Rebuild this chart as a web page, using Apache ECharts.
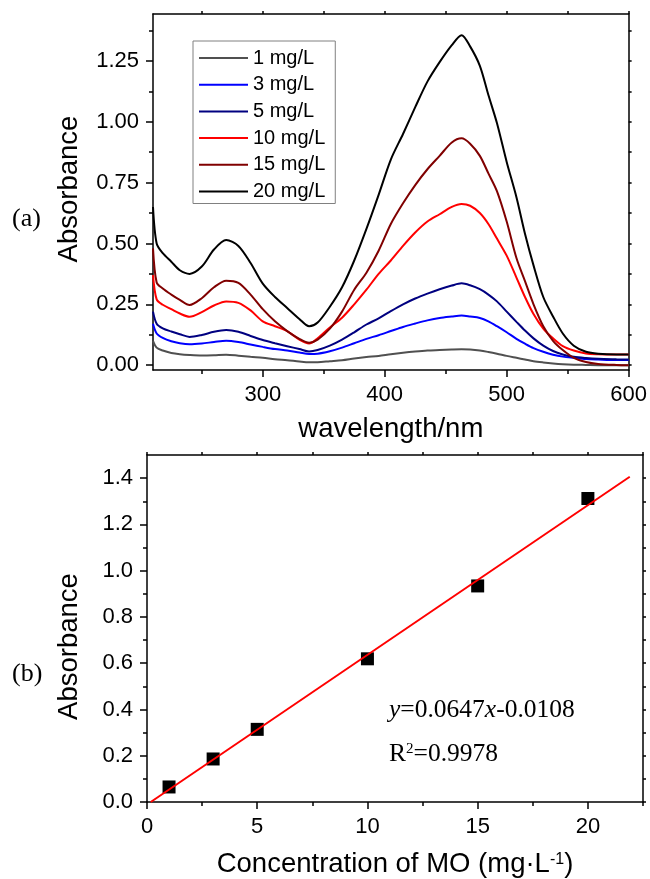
<!DOCTYPE html>
<html><head><meta charset="utf-8">
<script src="https://cdn.jsdelivr.net/npm/echarts@6/dist/echarts.min.js"></script>
<style>html,body{margin:0;padding:0;background:#fff}#c{width:650px;height:879px}</style>
</head><body><div id="c"></div>
<script>
// ---------- data ----------
const wavelengths = [210,213,218,225,232,240,250,260,270,280,290,300,310,320,330,338,345,355,365,375,385,395,405,415,425,435,445,455,463,470,478,485,492,500,508,515,522,530,538,546,555,565,575,590,600];
const abs1  = [0.10,0.072,0.06,0.05,0.045,0.042,0.04,0.041,0.043,0.039,0.034,0.03,0.024,0.02,0.015,0.012,0.012,0.016,0.02,0.027,0.033,0.038,0.045,0.051,0.056,0.06,0.062,0.064,0.065,0.064,0.06,0.054,0.047,0.038,0.03,0.023,0.016,0.011,0.007,0.004,0.002,0.001,0.0,0.0,0.0];
const abs3  = [0.17,0.13,0.112,0.098,0.09,0.086,0.089,0.095,0.1,0.095,0.085,0.075,0.066,0.06,0.052,0.046,0.047,0.057,0.072,0.09,0.108,0.123,0.14,0.157,0.171,0.184,0.194,0.2,0.204,0.2,0.194,0.18,0.16,0.135,0.108,0.088,0.07,0.055,0.043,0.035,0.03,0.025,0.023,0.021,0.021];
const abs5  = [0.22,0.17,0.151,0.138,0.127,0.116,0.124,0.137,0.144,0.137,0.12,0.103,0.09,0.078,0.066,0.056,0.062,0.08,0.105,0.135,0.167,0.192,0.222,0.25,0.274,0.294,0.312,0.327,0.336,0.328,0.312,0.29,0.262,0.22,0.178,0.142,0.11,0.08,0.058,0.044,0.034,0.029,0.026,0.024,0.023];
const abs10 = [0.37,0.27,0.248,0.23,0.212,0.199,0.218,0.245,0.262,0.256,0.225,0.18,0.16,0.14,0.105,0.089,0.11,0.155,0.195,0.25,0.31,0.375,0.43,0.49,0.545,0.59,0.62,0.65,0.662,0.655,0.625,0.58,0.52,0.45,0.36,0.28,0.21,0.15,0.11,0.078,0.06,0.048,0.045,0.044,0.044];
const abs15 = [0.48,0.34,0.315,0.29,0.268,0.247,0.275,0.32,0.347,0.338,0.29,0.23,0.18,0.14,0.108,0.092,0.105,0.15,0.22,0.31,0.38,0.47,0.58,0.665,0.74,0.805,0.86,0.915,0.932,0.91,0.86,0.788,0.715,0.59,0.44,0.345,0.25,0.16,0.1,0.062,0.03,0.013,0.005,0.001,0.0];
const abs20 = [0.65,0.50,0.46,0.425,0.39,0.375,0.405,0.475,0.514,0.49,0.42,0.335,0.28,0.235,0.19,0.16,0.175,0.24,0.32,0.43,0.56,0.70,0.845,0.95,1.06,1.165,1.245,1.315,1.356,1.31,1.23,1.11,0.995,0.835,0.69,0.54,0.41,0.28,0.2,0.13,0.08,0.055,0.047,0.044,0.044];
const seriesNames = ['1 mg/L','3 mg/L','5 mg/L','10 mg/L','15 mg/L','20 mg/L'];

const concentrations = [1,3,5,10,15,20];
const measuredAbs = [0.065,0.186,0.314,0.619,0.934,1.312];
const fitX = [0.17,21.9];
const fitY = [0.0,1.406];

// tick values
const topXMajor = [300,400,500,600];
const topXMinor = [250,350,450,550];
const topYMajor = [0,0.25,0.5,0.75,1.0,1.25];
const topYMinor = [0.125,0.375,0.625,0.875,1.125,1.375];
const botXMajor = [0,5,10,15,20];
const botXMinor = [2.5,7.5,12.5,17.5,22.5];
const botYMajor = [0,0.2,0.4,0.6,0.8,1.0,1.2,1.4];
const botYMinor = [0.1,0.3,0.5,0.7,0.9,1.1,1.3];

// ---------- chart ----------
const SANS = 'Liberation Sans, Arial, sans-serif';
const SERIF = 'Liberation Serif, Times New Roman, serif';
const colors = ['#505050','#0000ff','#000080','#ff0000','#800000','#000000'];
const lineBlack = {color:'#000', width:1.5};
const TITLE_FS = 27.5;

function mainAxis(grid, pos, min, max, major, fmt, name, nameGap, nameExtra) {
  return Object.assign({
    gridIndex:grid, type:'value', position:pos, min:min, max:max,
    axisLine:{show:true, onZero:false, lineStyle:lineBlack},
    axisTick:{show:true, inside:false, customValues:major, length:7, lineStyle:lineBlack},
    axisLabel:{show:true, customValues:major, formatter:fmt, margin:14, fontSize:22, color:'#000', fontFamily:SANS},
    splitLine:{show:false},
    name:name, nameLocation:'middle', nameGap:nameGap,
    nameTextStyle:{fontSize:TITLE_FS, color:'#000', fontFamily:SANS, lineHeight:28}
  }, nameExtra || {});
}
function tickAxis(grid, pos, min, max, ticks, len, showLine) {
  return {
    gridIndex:grid, type:'value', position:pos, min:min, max:max,
    axisLine:{show:showLine, onZero:false, lineStyle:lineBlack},
    axisTick:{show:true, inside:false, customValues:ticks, length:len, lineStyle:lineBlack},
    axisLabel:{show:false}, splitLine:{show:false}
  };
}

const lineSeries = [abs1,abs3,abs5,abs10,abs15,abs20].map((arr,i) => ({
  name: seriesNames[i], type:'line', xAxisIndex:0, yAxisIndex:0,
  data: wavelengths.map((w,j) => [w, arr[j]]),
  showSymbol:false, symbol:'none', smooth:0.3,
  lineStyle:{color:colors[i], width:2}, itemStyle:{color:colors[i]},
  animation:false
}));

const option = {
  animation:false,
  backgroundColor:'#fff',
  grid:[
    {left:153, top:14, width:478, height:356},
    {left:147, top:455, width:496, height:352}
  ],
  xAxis:[
    mainAxis(0,'bottom',210,600,topXMajor,v=>String(v),'wavelength/nm',45),
    tickAxis(0,'bottom',210,600,topXMinor,4,false),
    tickAxis(0,'top',210,600,topXMajor.concat(topXMinor),3,true),
    mainAxis(1,'bottom',0,22.5,botXMajor,v=>String(v),'Concentration of MO (mg·L{sup|-1})',48,
      {nameTextStyle:{fontSize:TITLE_FS, color:'#000', fontFamily:SANS, lineHeight:28,
        rich:{sup:{fontSize:16, fontFamily:SANS, color:'#000', lineHeight:16, padding:[0,0,8,0]}}}}),
    tickAxis(1,'bottom',0,22.5,botXMinor,4,false),
    tickAxis(1,'top',0,22.5,botXMajor.concat(botXMinor),3,true)
  ],
  yAxis:[
    mainAxis(0,'left',-0.02,1.443,topYMajor,v=>v.toFixed(2),'Absorbance',70,
      {nameTextStyle:{fontSize:TITLE_FS, color:'#000', fontFamily:SANS, lineHeight:28, padding:[0,0,0,6]}}),
    tickAxis(0,'left',-0.02,1.443,topYMinor,4,false),
    tickAxis(0,'right',-0.02,1.443,topYMajor.concat(topYMinor),3,true),
    mainAxis(1,'left',0,1.5,botYMajor,v=>v.toFixed(1),'Absorbance',64,
      {nameTextStyle:{fontSize:TITLE_FS, color:'#000', fontFamily:SANS, lineHeight:28, padding:[0,36,0,0]}}),
    tickAxis(1,'left',0,1.5,botYMinor,4,false),
    tickAxis(1,'right',0,1.5,botYMajor.concat(botYMinor),3,true)
  ],
  legend:{
    show:true, orient:'vertical', left:193, top:41,
    data:seriesNames, icon:'rect', itemWidth:49, itemHeight:2, itemGap:6.7,
    padding:[7,10,2,6], borderColor:'#808080', borderWidth:1, backgroundColor:'#fff',
    textStyle:{fontSize:20, fontFamily:SANS, color:'#000', lineHeight:20},
    selectedMode:false
  },
  series: lineSeries.concat([
    {type:'scatter', xAxisIndex:3, yAxisIndex:3, symbol:'rect', symbolSize:13,
     itemStyle:{color:'#000', opacity:1}, data:concentrations.map((c,i)=>[c, measuredAbs[i]]), z:3},
    {type:'line', xAxisIndex:3, yAxisIndex:3, symbol:'none', showSymbol:false,
     lineStyle:{color:'#ff0000', width:2}, data:fitX.map((x,i)=>[x, fitY[i]]), z:4}
  ]),
  graphic:[
    {type:'text', left:12, top:206, style:{text:'(a)', font:'26px '+SERIF, fill:'#000'}},
    {type:'text', left:12, top:661, style:{text:'(b)', font:'26px '+SERIF, fill:'#000'}},
    {type:'text', left:389, top:697, style:{text:'{i|y}=0.0647{i|x}-0.0108', fontSize:25.5, fontFamily:SERIF, fill:'#000',
      rich:{i:{fontStyle:'italic', fontSize:25.5, fontFamily:SERIF}}}},
    {type:'text', left:389, top:741, style:{text:'R{sup|2}=0.9978', fontSize:25.5, fontFamily:SERIF, fill:'#000',
      rich:{sup:{fontSize:15, fontFamily:SERIF, lineHeight:15, padding:[0,0,10,0]}}}}
  ]
};
const chart = echarts.init(document.getElementById('c'), null, {renderer:'canvas'});
chart.setOption(option);
</script>
</body></html>
